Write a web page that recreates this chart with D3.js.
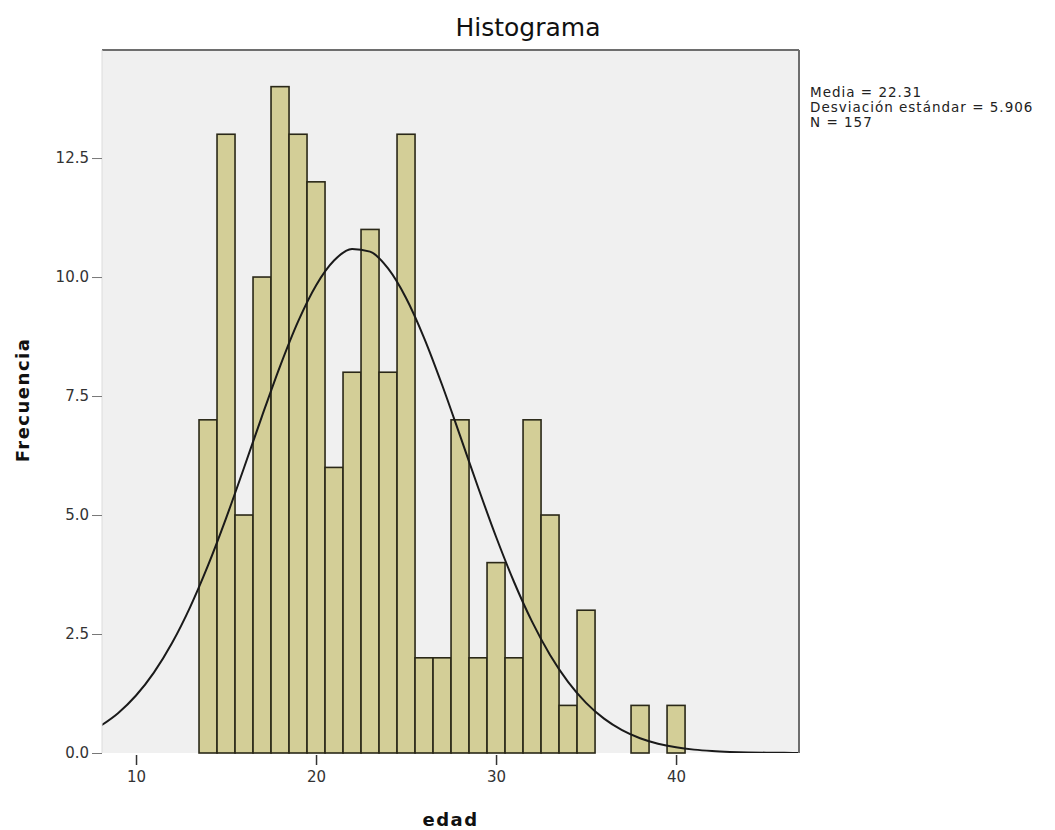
<!DOCTYPE html>
<html>
<head>
<meta charset="utf-8">
<script src="https://cdn.jsdelivr.net/npm/d3@7"></script>
<style>
  body { margin: 0; background: #fff; }
  text { font-family: "DejaVu Sans", sans-serif; }
</style>
</head>
<body>
<div id="chart"></div>
<script>
// data
var edadBins = [14, 15, 16, 17, 18, 19, 20, 21, 22, 23, 24, 25, 26, 27,
  28, 29, 30, 31, 32, 33, 34, 35, 36, 37, 38, 39, 40];
var frecuencias = [7, 13, 5, 10, 14, 13, 12, 6, 8, 11, 8, 13, 2, 2,
  7, 2, 4, 2, 7, 5, 1, 3, 0, 0, 1, 0, 1];

// normal curve, read at whole ages
var curvaEdad = [8, 9, 10, 11, 12, 13, 14, 15, 16, 17, 18, 19, 20, 21, 22, 23,
  24, 25, 26, 27, 28, 29, 30, 31, 32, 33, 34, 35, 36, 37, 38, 39, 40, 41, 42,
  43, 44, 45, 46, 47];
var curvaFrec = [0.563, 0.837, 1.208, 1.695, 2.311, 3.061, 3.941, 4.930, 5.993,
  7.079, 8.125, 9.064, 9.824, 10.347, 10.590, 10.533, 10.180, 9.560, 8.724,
  7.737, 6.667, 5.583, 4.543, 3.593, 2.760, 2.061, 1.495, 1.054, 0.722, 0.481,
  0.311, 0.196, 0.120, 0.071, 0.041, 0.023, 0.012, 0.007, 0.003, 0.001];

var xTicks = [10, 20, 30, 40];
var yTicks = [0, 2.5, 5, 7.5, 10, 12.5];
var statsLines = ["Media = 22.31", "Desviación estándar = 5.906", "N = 157"];

var svgWidth = 1055;
var svgHeight = 830;

var margin = {
  top: 50,
  right: 256,
  bottom: 77,
  left: 102
};

var width = svgWidth - margin.left - margin.right;
var height = svgHeight - margin.top - margin.bottom;

var svg = d3.select("#chart")
  .append("svg")
  .attr("width", svgWidth)
  .attr("height", svgHeight);

var chartGroup = svg.append("g")
  .attr("transform", `translate(${margin.left}, ${margin.top})`);

// scales
var xScale = d3.scaleLinear()
  .domain([8.11, 46.83])
  .range([0, width]);

var yScale = d3.scaleLinear()
  .domain([0, 14.77])
  .range([height, 0]);

// plot background
chartGroup.append("rect")
  .attr("width", width)
  .attr("height", height)
  .attr("fill", "#f0f0f0");

chartGroup.append("clipPath")
  .attr("id", "plotClip")
  .append("rect")
  .attr("width", width)
  .attr("height", height);

// bars
var barData = edadBins.map((d, i) => ({ edad: d, n: frecuencias[i] }))
  .filter(d => d.n > 0);

chartGroup.selectAll(".bar")
  .data(barData)
  .enter()
  .append("rect")
  .attr("class", "bar")
  .attr("x", d => xScale(d.edad - 0.5))
  .attr("y", d => yScale(d.n))
  .attr("width", d => xScale(d.edad + 0.5) - xScale(d.edad - 0.5))
  .attr("height", d => yScale(0) - yScale(d.n))
  .attr("fill", "#d3ce97")
  .attr("stroke", "#2a2818")
  .attr("stroke-width", 1.6);

// normal curve
var line = d3.line()
  .x((d, i) => xScale(d))
  .y((d, i) => yScale(curvaFrec[i]))
  .curve(d3.curveMonotoneX);

chartGroup.append("path")
  .datum(curvaEdad)
  .attr("clip-path", "url(#plotClip)")
  .attr("d", line)
  .attr("fill", "none")
  .attr("stroke", "#1a1a1a")
  .attr("stroke-width", 2);

// frame: dark on top and right, light on the left
chartGroup.append("line")
  .attr("x1", 0).attr("x2", width)
  .attr("y1", 0).attr("y2", 0)
  .attr("stroke", "#6e6e6e")
  .attr("stroke-width", 2);
chartGroup.append("line")
  .attr("x1", width).attr("x2", width)
  .attr("y1", 0).attr("y2", height)
  .attr("stroke", "#6e6e6e")
  .attr("stroke-width", 2);
chartGroup.append("line")
  .attr("x1", 0).attr("x2", 0)
  .attr("y1", 0).attr("y2", height)
  .attr("stroke", "#dcdcdc")
  .attr("stroke-width", 1);

// y axis
var leftAxis = d3.axisLeft(yScale)
  .tickValues(yTicks)
  .tickFormat(d3.format(".1f"))
  .tickSize(10)
  .tickPadding(3);

var yAxis = chartGroup.append("g")
  .call(leftAxis);
yAxis.select(".domain").remove();
yAxis.selectAll("line").attr("stroke", "#777");
yAxis.selectAll("text")
  .attr("fill", "#333")
  .style("font-size", "15px")
  .style("font-family", "DejaVu Sans, sans-serif");

// x axis
var bottomAxis = d3.axisBottom(xScale)
  .tickValues(xTicks)
  .tickSize(10)
  .tickPadding(6);

var xAxis = chartGroup.append("g")
  .attr("transform", `translate(0, ${height + 2})`)
  .call(bottomAxis);
xAxis.select(".domain").remove();
xAxis.selectAll("line").attr("stroke", "#333").attr("stroke-width", 1.5);
xAxis.selectAll("text")
  .attr("fill", "#333")
  .style("font-size", "15px")
  .style("font-family", "DejaVu Sans, sans-serif");

// title
svg.append("text")
  .attr("x", 528)
  .attr("y", 36)
  .attr("text-anchor", "middle")
  .style("font-size", "25px")
  .attr("fill", "#111")
  .text("Histograma");

// axis titles
svg.append("text")
  .attr("transform", "rotate(-90)")
  .attr("x", -400)
  .attr("y", 29)
  .attr("text-anchor", "middle")
  .style("font-size", "18px")
  .style("font-weight", "bold")
  .style("letter-spacing", "1.5px")
  .attr("fill", "#111")
  .text("Frecuencia");

svg.append("text")
  .attr("x", margin.left + width / 2)
  .attr("y", 826)
  .attr("text-anchor", "middle")
  .style("font-size", "18px")
  .style("font-weight", "bold")
  .style("letter-spacing", "1.5px")
  .attr("fill", "#111")
  .text("edad");

// stats box
svg.append("g")
  .selectAll("text")
  .data(statsLines)
  .enter()
  .append("text")
  .attr("x", 810)
  .attr("y", (d, i) => 97 + i * 15)
  .style("font-size", "13.5px")
  .style("letter-spacing", "1px")
  .attr("fill", "#222")
  .text(d => d);
</script>
</body>
</html>
